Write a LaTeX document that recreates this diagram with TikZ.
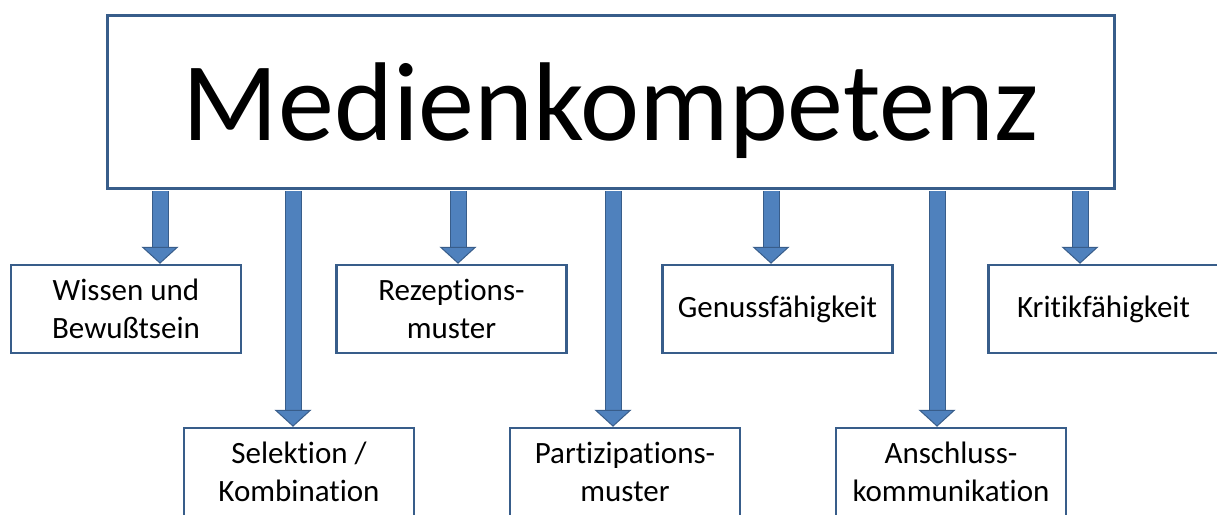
\documentclass[tikz,border=0pt]{standalone}
\usepackage{fontspec}
\setmainfont{Carlito}[Ligatures=NoCommon,Contextuals=NoAlternate,RawFeature={-dlig;-clig}]
\usetikzlibrary{arrows.meta}
\definecolor{boxline}{RGB}{56,93,138}
\definecolor{arrowfill}{RGB}{79,129,189}

\begin{document}
\begin{tikzpicture}[x=1pt,y=-1pt,
		item/.style={draw=boxline,line width=2.5pt,fill=white,minimum width=230pt,minimum height=88pt,inner sep=0pt,align=center,font=\fontsize{31}{38}\selectfont},
		flow/.style={draw=arrowfill,line width=15pt,shorten <=1.5pt,
			-{Triangle[width=37pt,length=17pt,line width=1pt,fill=arrowfill,color=boxline]},
			preaction={draw=boxline,line width=17pt,-,shorten <=1.5pt,shorten >=17pt}}]
		
		\clip (0,0) rectangle (1217,514);
		\fill[white] (0,0) rectangle (1217,514);
		
		%top
		\node[draw=boxline,line width=3pt,minimum width=1007pt,minimum height=173pt,inner sep=0pt,text height=77pt,text depth=0pt,font=\fontsize{112}{134}\selectfont] (main) at (610.5,101.5) {Medienkompetenz};
		
		%first row
		\node[item] (wissen) at (126,309) {Wissen und\\Bewußtsein};
		\node[item] (rezeption) at (451.5,309) {Rezeptions-\\muster};
		\node[item] (genuss) at (777.5,309) {Genussfähigkeit};
		\node[item] (kritik) at (1103.5,309) {Kritikfähigkeit};
		
		%second row
		\node[item] (selektion) at (299,472) {Selektion /\\Kombination};
		\node[item] (partizipation) at (625,472) {Partizipations-\\muster};
		\node[item] (anschluss) at (951,472) {Anschluss-\\kommunikation};
		
		%arrows
		\foreach \n/\dx in {wissen/34,rezeption/6.5,genuss/-6.5,kritik/-23.5,selektion/-6,partizipation/-12,anschluss/-14}
		{
			\coordinate (end) at ([xshift=\dx pt]\n.north);
			\draw[flow] (end |- main.south) -- (end);
		}
		
	\end{tikzpicture}
\end{document}
